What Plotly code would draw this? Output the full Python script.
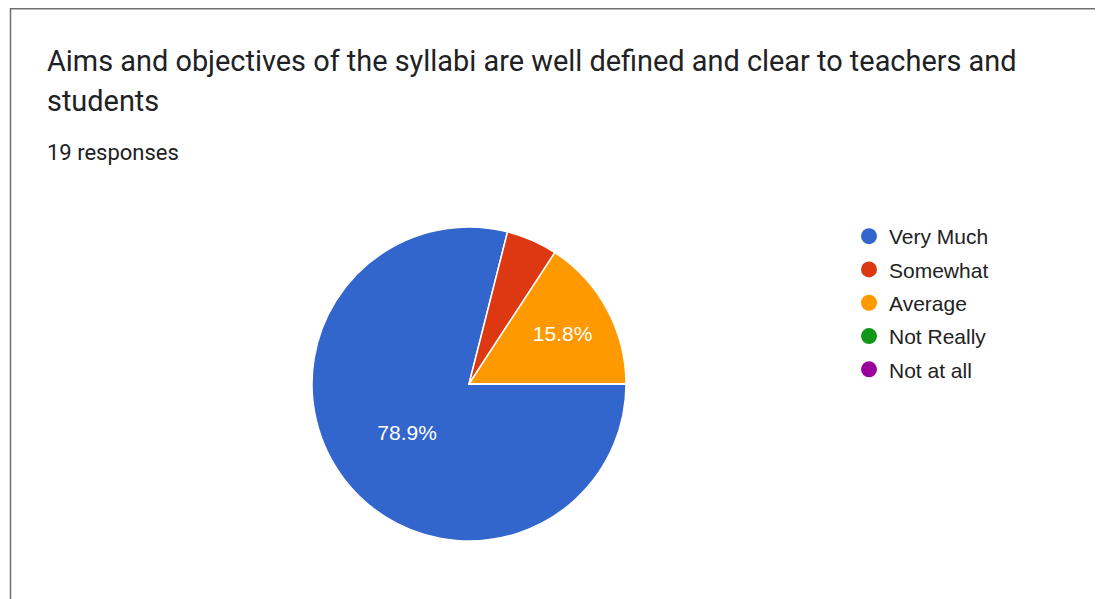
import plotly.graph_objects as go

# survey data
categories = ["Very Much", "Somewhat", "Average", "Not Really", "Not at all"]
responses = [15, 1, 3, 0, 0]
colors = ["#3366cc", "#dc3912", "#ff9900", "#109618", "#990099"]
total_responses = sum(responses)

title_line1 = "Aims and objectives of the syllabi are well defined and clear to teachers and"
title_line2 = "students"
subtitle = f"{total_responses} responses"

OFF = 8  # page body margin
W, H = 1103 - OFF, 599 - OFF


def px_(x):
    return (x - OFF) / W


def py(y):
    return 1 - (y - OFF) / H


# google charts hides labels on small slices
templates = ["%{percent:.1%}" if v / total_responses >= 0.1 else "" for v in responses]

fig = go.Figure()
fig.add_trace(go.Pie(
    labels=categories,
    values=responses,
    marker=dict(colors=colors, line=dict(color="white", width=1.5)),
    sort=False,
    direction="clockwise",
    rotation=90,
    texttemplate=templates,
    textposition="inside",
    insidetextorientation="horizontal",
    textfont=dict(family="Liberation Sans, Arial", size=21, color="white"),
    hoverinfo="label+percent",
    showlegend=False,
    domain=dict(x=[px_(312), px_(626)], y=[py(541), py(227)]),
))

# legend with round markers
for i, (name, col) in enumerate(zip(categories, colors)):
    fig.add_trace(go.Scatter(
        x=[None], y=[None], mode="markers", name=name, legendgroup=f"g{i}",
        marker=dict(color=col, size=20, symbol="circle"),
    ))

fig.add_annotation(text=title_line1, x=px_(45), y=py(61), xref="paper", yref="paper",
                   xanchor="left", yanchor="middle", showarrow=False,
                   font=dict(family="Roboto", size=28.9, color="#202124"))
fig.add_annotation(text=title_line2, x=px_(45), y=py(101), xref="paper", yref="paper",
                   xanchor="left", yanchor="middle", showarrow=False,
                   font=dict(family="Roboto", size=28.9, color="#202124"))
fig.add_annotation(text=subtitle, x=px_(45), y=py(152), xref="paper", yref="paper",
                   xanchor="left", yanchor="middle", showarrow=False,
                   font=dict(family="Roboto", size=22, color="#202124"))

# card border: only top and left edges are in view
border = dict(color="#707070", width=1.5)
fig.add_shape(type="line", xref="paper", yref="paper",
              x0=px_(10), x1=1, y0=1 - 0.8 / H, y1=1 - 0.8 / H, line=border)
fig.add_shape(type="line", xref="paper", yref="paper",
              x0=px_(10.5), x1=px_(10.5), y0=0, y1=1, line=border)

fig.update_layout(
    width=W, height=H,
    margin=dict(l=0, r=0, t=0, b=0),
    paper_bgcolor="white",
    plot_bgcolor="white",
    xaxis=dict(visible=False),
    yaxis=dict(visible=False),
    legend=dict(x=px_(849), y=py(216), xanchor="left", yanchor="top",
                font=dict(family="Liberation Sans, Arial", size=21, color="#222222"),
                tracegroupgap=3),
)

fig.write_html("out.html")
